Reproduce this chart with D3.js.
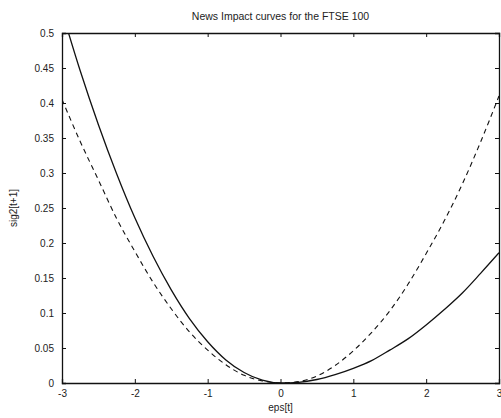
<!DOCTYPE html>
<html><head><meta charset="utf-8">
<script src="https://cdn.jsdelivr.net/npm/d3@7"></script>
<style>body{margin:0;background:#fff;}svg{display:block;}</style>
</head><body>
<script>
const eps = [-3,-2.75,-2.5,-2.25,-2,-1.75,-1.5,-1.25,-1,-0.75,-0.5,-0.25,0,0.25,0.5,0.75,1,1.25,1.5,1.75,2,2.25,2.5,2.75,3];
const solidSeries = [0.531,0.446,0.369,0.299,0.236,0.181,0.133,0.092,0.059,0.033,0.015,0.004,0.0,0.001,0.005,0.012,0.021,0.032,0.047,0.063,0.083,0.105,0.129,0.157,0.186];
const dashedSeries = [0.405,0.345,0.29,0.235,0.188,0.144,0.106,0.073,0.047,0.026,0.011,0.003,0.0,0.002,0.01,0.025,0.046,0.072,0.103,0.141,0.185,0.232,0.285,0.345,0.41];
const xTicks = [-3,-2,-1,0,1,2,3];
const yTicks = [0,0.05,0.1,0.15,0.2,0.25,0.3,0.35,0.4,0.45,0.5];
const titleText = "News Impact curves for the FTSE 100";
const xLabel = "eps[t]";
const yLabel = "sig2[t+1]";

const W = 501, H = 418;
const m = {l:62, r:2, t:33, b:35};
const svg = d3.select("body").append("svg").attr("width",W).attr("height",H);
const x = d3.scaleLinear().domain([-3,3]).range([m.l, W-m.r]);
const y = d3.scaleLinear().domain([0,0.5]).range([H-m.b, m.t]);
const font = "Liberation Sans, Arial, sans-serif";

svg.append("clipPath").attr("id","clip").append("rect")
  .attr("x",x(-3)).attr("y",y(0.5)).attr("width",x(3)-x(-3)).attr("height",y(0)-y(0.5));

const line = d3.line().x((d,i)=>x(eps[i])).y(d=>y(d)).curve(d3.curveMonotoneX);
const g = svg.append("g").attr("clip-path","url(#clip)");
g.append("path").datum(solidSeries).attr("d",line).attr("fill","none").attr("stroke","#111").attr("stroke-width",1.3);
g.append("path").datum(dashedSeries).attr("d",line).attr("fill","none").attr("stroke","#111").attr("stroke-width",1.1).attr("stroke-dasharray","5,4");

// axes with inward ticks
const tl = 4;
const fmt = d => String(d);
const xb = svg.append("g").attr("transform",`translate(0,${y(0)})`)
  .call(d3.axisBottom(x).tickValues(xTicks).tickSize(-tl).tickPadding(7).tickFormat(fmt));
const xt = svg.append("g").attr("transform",`translate(0,${y(0.5)})`)
  .call(d3.axisTop(x).tickValues(xTicks).tickSize(-tl).tickFormat(""));
const yl = svg.append("g").attr("transform",`translate(${x(-3)},0)`)
  .call(d3.axisLeft(y).tickValues(yTicks).tickSize(-tl).tickPadding(8).tickFormat(fmt));
const yr = svg.append("g").attr("transform",`translate(${x(3)},0)`)
  .call(d3.axisRight(y).tickValues(yTicks).tickSize(-tl).tickFormat(""));
[xb,xt,yl,yr].forEach(a=>{
  a.selectAll(".domain").attr("stroke","#111").attr("stroke-width",1.3);
  a.selectAll(".tick line").attr("stroke","#111");
  a.selectAll("text").attr("font-family",font).attr("font-size",10).attr("fill","#222");
});

svg.append("text").attr("x",(x(-3)+x(3))/2).attr("y",20).attr("text-anchor","middle")
  .attr("font-family",font).attr("font-size",10.5).attr("fill","#222").text(titleText);
svg.append("text").attr("x",x(0)).attr("y",411).attr("text-anchor","middle")
  .attr("font-family",font).attr("font-size",10).attr("fill","#222").text(xLabel);
svg.append("text").attr("transform",`translate(17,${(y(0)+y(0.5))/2}) rotate(-90)`).attr("text-anchor","middle")
  .attr("font-family",font).attr("font-size",10).attr("fill","#222").text(yLabel);
</script>
</body></html>
